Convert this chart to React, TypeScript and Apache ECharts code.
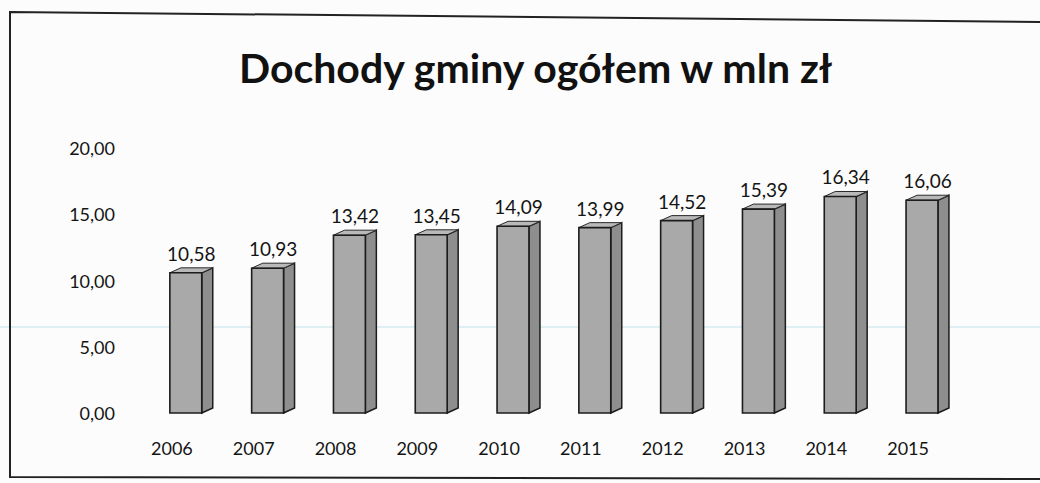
import React, { useEffect, useRef } from "react";
import * as echarts from "echarts";

const years = ["2006", "2007", "2008", "2009", "2010", "2011", "2012", "2013", "2014", "2015"];
const values = [10.58, 10.93, 13.42, 13.45, 14.09, 13.99, 14.52, 15.39, 16.34, 16.06];
const titleText = "Dochody gminy ogółem w mln zł";

const fmt = (v: number) => v.toFixed(2).replace(".", ",");
const FONT = "Lato, 'Open Sans', sans-serif";

export default function App() {
  const ref = useRef<HTMLDivElement>(null);
  useEffect(() => {
    if (!ref.current) return;
    const chart = echarts.init(ref.current, undefined, { renderer: "svg" });
    chart.setOption({
      animation: false,
      backgroundColor: "#fcfcfc",
      title: {
        text: titleText,
        left: 234,
        top: 42,
        textStyle: { fontFamily: FONT, fontSize: 41, fontWeight: "bold", color: "#111" },
      },
      grid: { left: 131, right: 91, top: 148, bottom: 70 },
      xAxis: {
        type: "category",
        data: years,
        axisLine: { show: false },
        axisTick: { show: false },
        axisLabel: { margin: 26, fontSize: 18, fontFamily: FONT, color: "#141414" },
      },
      yAxis: {
        type: "value",
        min: 0,
        max: 20,
        interval: 5,
        axisLine: { show: false },
        axisTick: { show: false },
        splitLine: { show: false },
        axisLabel: { margin: 16, fontSize: 18, fontFamily: FONT, color: "#141414", formatter: (v: number) => fmt(v) },
      },
      graphic: [
        { type: "line", shape: { x1: 0, y1: 327, x2: 1040, y2: 327 }, style: { stroke: "#bfe3ea", lineWidth: 1.2 }, silent: true },
        { type: "polyline", shape: { points: [[1040, 22], [10, 12], [10, 477], [1040, 479]] }, style: { stroke: "#222", lineWidth: 2, fill: null }, silent: true },
      ],
      series: [
        {
          type: "custom",
          data: values.map((v, i) => [i, v]),
          encode: { x: 0, y: 1 },
          renderItem: (params: any, api: any) => {
            const idx = api.value(0);
            const v = api.value(1);
            const base = api.coord([idx, 0]);
            const top = api.coord([idx, v]);
            const band = api.size([1, 0])[0];
            const fw = band * 0.39;
            const off = band * 0.17;
            const dx = 11;
            const dy = 5;
            const x0 = base[0] + off - fw / 2;
            const x1 = x0 + fw;
            const yb = base[1];
            const yt = top[1];
            return {
              type: "group",
              children: [
                {
                  type: "polygon",
                  shape: { points: [[x1, yb], [x1 + dx, yb - dy], [x1 + dx, yt - dy], [x1, yt]] },
                  style: { fill: "#8e8e8e", stroke: "#1c1c1c", lineWidth: 1.5 },
                },
                {
                  type: "polygon",
                  shape: { points: [[x0, yt], [x0 + dx, yt - dy], [x1 + dx, yt - dy], [x1, yt]] },
                  style: { fill: "#b9b9b9", stroke: "#2a2a2a", lineWidth: 1 },
                },
                {
                  type: "rect",
                  shape: { x: x0, y: yt, width: fw, height: yb - yt },
                  style: { fill: "#a9a9a9", stroke: "#1c1c1c", lineWidth: 1.6 },
                },
                {
                  type: "text",
                  style: {
                    text: fmt(v),
                    x: (x0 + x1 + dx) / 2,
                    y: yt - dy - 5,
                    align: "center",
                    verticalAlign: "bottom",
                    fill: "#141414",
                    font: `19px ${FONT}`,
                  },
                },
              ],
            };
          },
        },
      ],
    });
    return () => chart.dispose();
  }, []);
  return <div ref={ref} style={{ position: "fixed", left: 0, top: 0, width: 1040, height: 483 }} />;
}
